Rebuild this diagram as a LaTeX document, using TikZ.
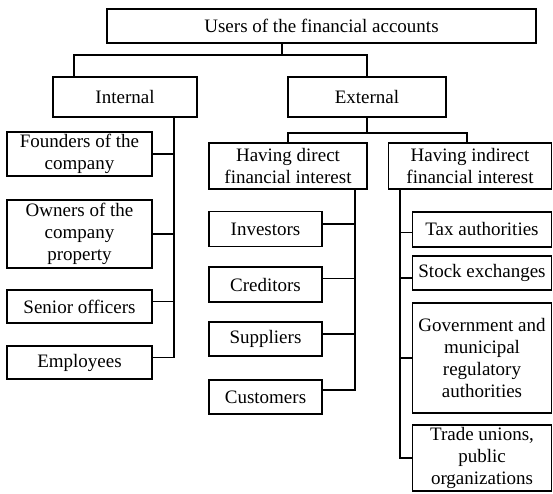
\documentclass[tikz,border=0pt]{standalone}
\usepackage{fontspec}
\setmainfont{Liberation Serif}

\begin{document}
\begin{tikzpicture}[x=1pt, y=-1pt, line width=1.8pt,
                    main node/.style={draw, align=center, inner sep=0pt,
                                      font=\fontsize{19}{22}\selectfont}]

  \useasboundingbox (0,0) rectangle (553,494);

  % top and the two groups
  \node[main node, minimum width=429pt, minimum height=34pt] (users) at (321.5,26) {Users of the financial accounts};
  \node[main node, minimum width=144pt, minimum height=40pt] (intl) at (125,97) {Internal};
  \node[main node, minimum width=158pt, minimum height=40pt] (extl) at (367,97) {External};

  % internal users
  \node[main node, minimum width=145pt, minimum height=44pt] (found) at (79.5,154) {Founders of the\\company};
  \node[main node, minimum width=145pt, minimum height=68pt] (owner) at (79.5,234) {Owners of the\\company\\property};
  \node[main node, minimum width=145pt, minimum height=33pt] (senior) at (79.5,306.5) {Senior officers};
  \node[main node, minimum width=145pt, minimum height=33pt] (employ) at (79.5,362.5) {Employees};

  % external users
  \node[main node, minimum width=158pt, minimum height=46pt] (direct) at (288,166) {Having direct\\financial interest};
  \node[main node, minimum width=163pt, minimum height=46pt] (indirect) at (470,166) {Having indirect\\financial interest};

  \node[main node, minimum width=113pt, minimum height=35pt] (inv) at (265.5,229) {Investors};
  \node[main node, minimum width=113pt, minimum height=35pt] (cred) at (265.5,284.5) {Creditors};
  \node[main node, minimum width=113pt, minimum height=34pt] (supp) at (265.5,339) {Suppliers};
  \node[main node, minimum width=113pt, minimum height=34pt] (cust) at (265.5,397) {Customers};

  \node[main node, minimum width=139pt, minimum height=35pt] (tax) at (482,229.5) {Tax authorities};
  \node[main node, minimum width=139pt, minimum height=34pt] (stock) at (482,273) {Stock exchanges};
  \node[main node, minimum width=139pt, minimum height=110pt] (gov) at (482,358) {Government and\\municipal\\regulatory\\authorities};
  \node[main node, minimum width=139pt, minimum height=66pt] (trade) at (482,458) {Trade unions,\\public\\organizations};

  \coordinate (ubus) at (282,55);
  \coordinate (ebus) at (367,133);
  \coordinate (isp) at (174,0);
  \coordinate (dsp) at (355,0);
  \coordinate (rsp) at (400,0);

  % upper levels
  \draw (users.south -| ubus) -- (ubus);
  \draw ([xshift=-51pt]intl.north) |- (ubus) -| (extl.north);
  \draw (extl.south) -- (ebus);
  \draw (direct.north) |- (ebus) -| ([xshift=-3pt]indirect.north);

  % internal spine
  \draw (intl.south -| isp) -- ([yshift=5pt]employ.east -| isp) -- ([yshift=5pt]employ.east);
  \draw (found.east) -- (found.east -| isp);
  \draw (owner.east) -- (owner.east -| isp);
  \draw ([yshift=5pt]senior.east) -- ([yshift=5pt]senior.east -| isp);

  % direct spine
  \draw (direct.south -| dsp) -- ([yshift=7pt]cust.east -| dsp) -- ([yshift=7pt]cust.east);
  \draw ([yshift=5pt]inv.east) -- ([yshift=5pt]inv.east -| dsp);
  \draw ([yshift=6pt]cred.east) -- ([yshift=6pt]cred.east -| dsp);
  \draw ([yshift=5pt]supp.east) -- ([yshift=5pt]supp.east -| dsp);

  % indirect spine
  \draw (indirect.south -| rsp) -- (trade.west -| rsp) -- (trade.west);
  \draw ([yshift=-3pt]tax.west) -- ([yshift=-3pt]tax.west -| rsp);
  \draw ([yshift=-5pt]stock.west) -- ([yshift=-5pt]stock.west -| rsp);
  \draw (gov.west) -- (gov.west -| rsp);
\end{tikzpicture}
\end{document}
